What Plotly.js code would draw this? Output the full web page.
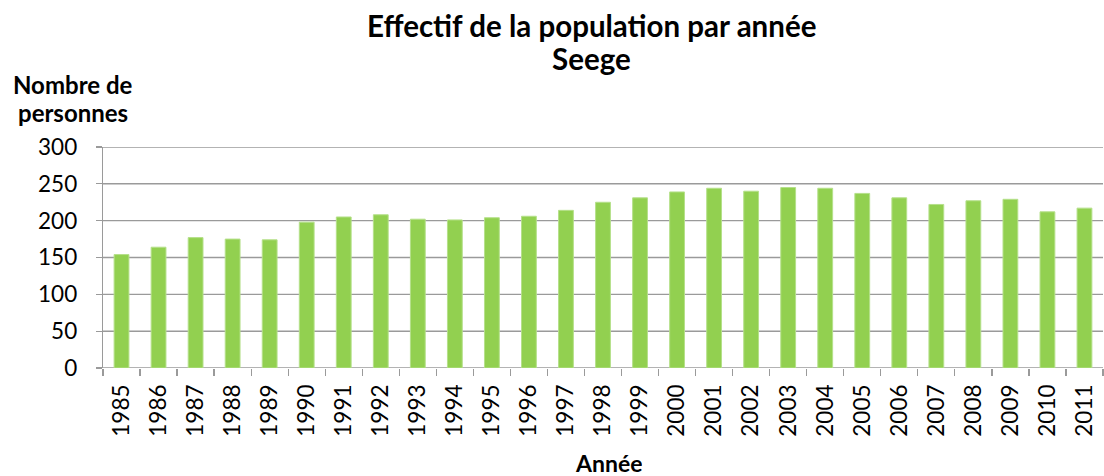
<!DOCTYPE html>
<html>
<head>
<meta charset="utf-8">
<script src="https://cdn.plot.ly/plotly-3.0.1.min.js"></script>
<style>html,body{margin:0;padding:0;background:#fff;}#chart{width:1104px;height:476px;}</style>
</head>
<body>
<div id="chart"></div>
<script>
const years = ["1985","1986","1987","1988","1989","1990","1991","1992","1993","1994","1995","1996","1997","1998","1999","2000","2001","2002","2003","2004","2005","2006","2007","2008","2009","2010","2011"];
const population = [154,164,177,175,174,198,205,208,202,201,204,206,214,225,231,239,244,240,245,244,237,231,222,227,229,212,217];
const yTicks = [0,50,100,150,200,250,300];
const titleLines = ["Effectif de la population par année", "Seege"];
const yTitleLines = ["Nombre de", "personnes"];
const xTitle = "Année";

const FONT = "Lato, 'Open Sans', sans-serif";
const GRID = "#9a9a9a";

const trace = {
  type: "bar",
  x: years,
  y: population,
  width: 0.4,
  marker: {color: "#92D050", line: {color: "#b5e08a", width: 1}},
  hoverinfo: "x+y"
};

function ann(text, x, y, size, h) {
  const a = {
    text: "<b>" + text + "</b>",
    xref: "paper", yref: "paper",
    x: x, y: y, xanchor: "center", yanchor: "middle",
    showarrow: false,
    font: {family: FONT, size: size, color: "#000"}
  };
  if (h) a.height = h;
  return a;
}

const gridShapes = yTicks.map(v => ({
  type: "line", xref: "paper", yref: "y",
  x0: 0, x1: 1, y0: v, y1: v,
  layer: "below",
  line: {color: GRID, width: 1.3}
}));

const layout = {
  width: 1104,
  height: 476,
  margin: {l: 103, r: 1, t: 147, b: 108},
  paper_bgcolor: "#fff",
  plot_bgcolor: "#fff",
  showlegend: false,
  font: {family: FONT, color: "#000", size: 18},
  xaxis: {
    type: "category",
    tickangle: -90,
    tickson: "boundaries",
    ticks: "outside",
    ticklen: 7,
    tickcolor: GRID,
    tickwidth: 1.3,
    showline: false,
    showgrid: false,
    ticklabelstandoff: 11,
    tickfont: {family: FONT, size: 22.5, color: "#000"},
    fixedrange: true
  },
  yaxis: {
    range: [0, 300],
    tickvals: yTicks,
    ticks: "outside",
    ticklen: 6,
    tickcolor: GRID,
    tickwidth: 1.3,
    showline: true,
    linecolor: GRID,
    linewidth: 1.3,
    showgrid: true,
    gridcolor: GRID,
    gridwidth: 1.3,
    zeroline: false,
    ticklabelstandoff: 14,
    tickfont: {family: FONT, size: 22.5, color: "#000"},
    fixedrange: true
  },
  shapes: gridShapes,
  annotations: [
    ann(titleLines[0], 0.4885, 1.552, 29.5, 33),
    ann(titleLines[1], 0.4885, 1.400, 29.5, 33),
    ann(yTitleLines[0], -0.030, 1.285, 24, 28),
    ann(yTitleLines[1], -0.030, 1.158, 24, 28),
    ann(xTitle, 0.5055, -0.432, 23, 24)
  ]
};

Plotly.newPlot("chart", [trace], layout, {displayModeBar: false, staticPlot: true});
</script>
</body>
</html>
